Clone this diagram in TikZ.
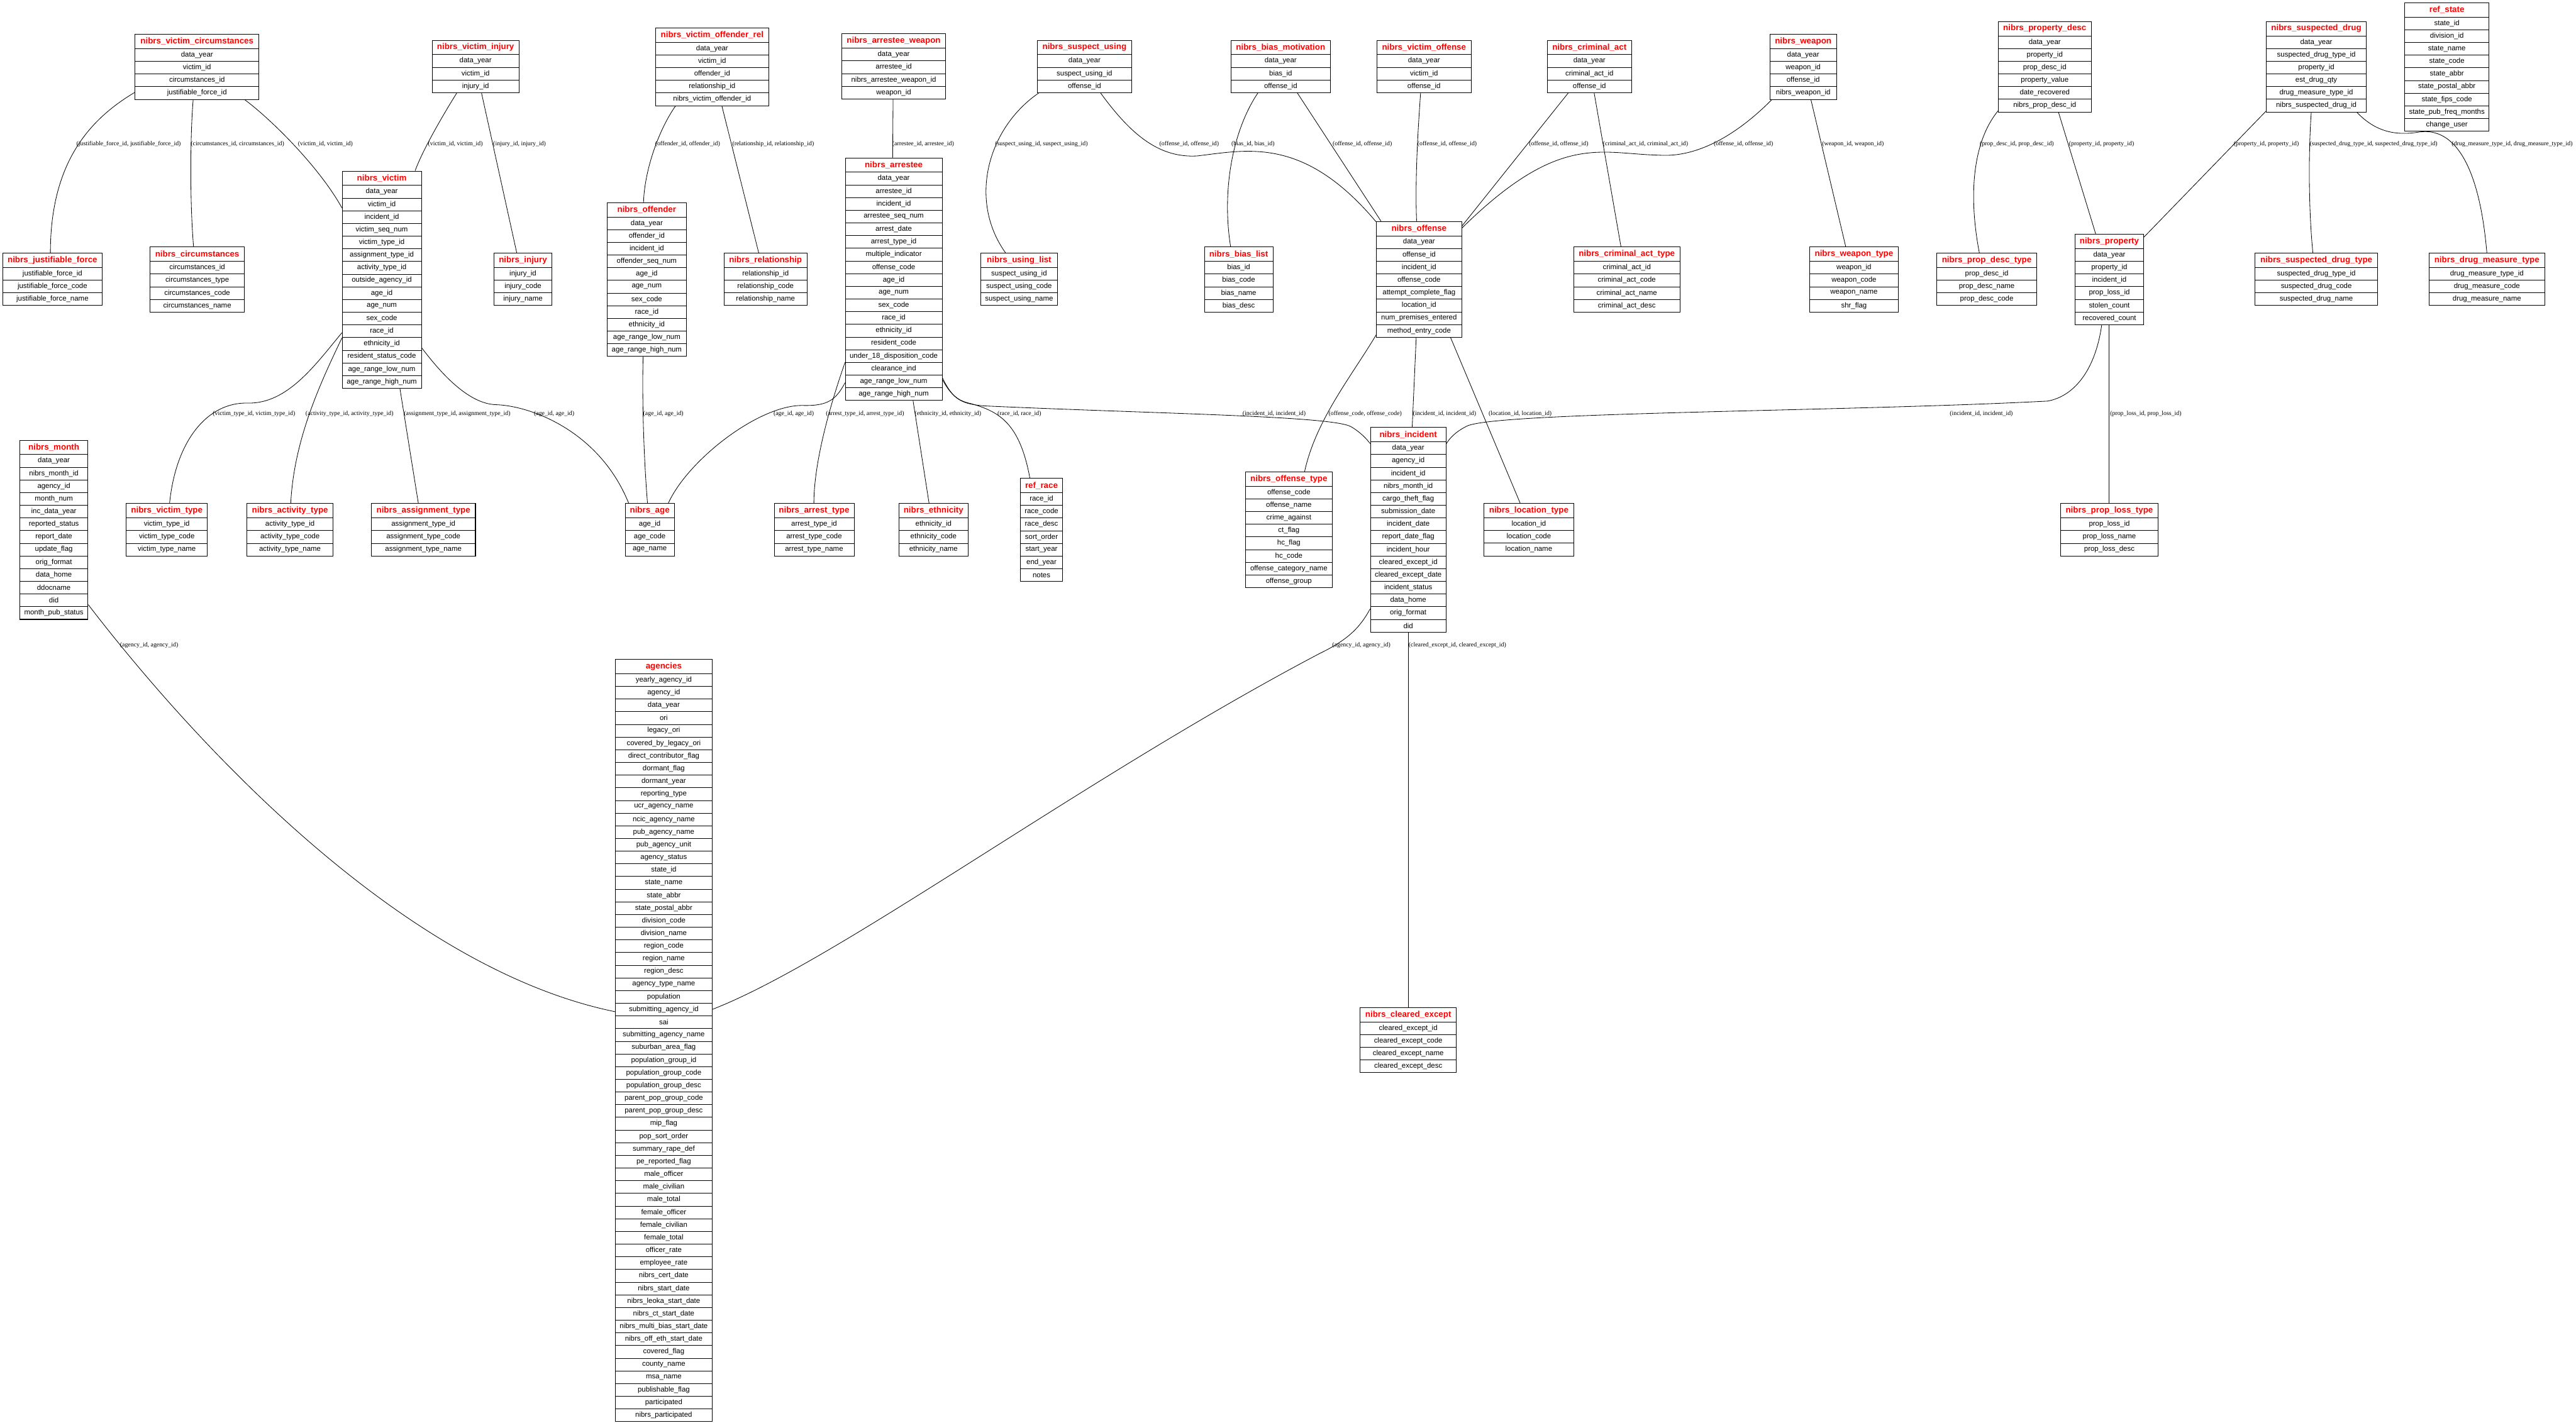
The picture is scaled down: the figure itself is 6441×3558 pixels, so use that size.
\documentclass[tikz,border=0pt]{standalone}
\usepackage{fontspec}
\setmainfont{Liberation Sans}
\newfontfamily\lblserif{Liberation Serif}
\usetikzlibrary{calc}
\newcommand\hdfont{\fontsize{21}{24}\selectfont\bfseries}
\newcommand\rwfont{\fontsize{18}{21}\selectfont}
\newcommand\lbfont{\lblserif\fontsize{15.5}{18}\selectfont}
\tikzset{
  tblbox/.style={draw, line width=1.6pt, inner sep=0pt, fill=white},
  tblhead/.style={draw, line width=1.2pt, inner sep=0pt, minimum height=36pt, font=\hdfont, text=red},
  tblrow/.style={draw, line width=1.2pt, inner sep=0pt, minimum height=31.7pt, font=\rwfont},
  conn/.style={line width=1.3pt, black},
  elabel/.style={font=\lbfont, anchor=west, inner sep=0pt},
}
% #1 name, #2 x, #3 y (top), #4 width, #5 rows, #6 title, #7 row list
\newcommand\ertable[7]{%
  \node[tblbox, minimum width=#4, minimum height={36+#5*31.7}, anchor=north west] (#1) at (#2,#3) {};
  \node[tblhead, minimum width=#4, anchor=north west] (#1-h) at (#2,#3) {#6};
  \foreach \rowtxt [count=\rowno] in {#7} {
    \node[tblrow, minimum width=#4, anchor=north west] (#1-\rowno) at (#2,{#3+36+(\rowno-1)*31.7}) {\rowtxt};
  }%
}
\begin{document}
\catcode`\_=12
\begin{tikzpicture}[x=1pt, y=-1pt]
\fill[white] (0,0) rectangle (6441,3558);
\useasboundingbox (0,0) rectangle (6441,3558);

% ---------------- tables ----------------
\ertable{vc}{337}{85}{310}{4}{nibrs_victim_circumstances}{data_year, victim_id, circumstances_id, justifiable_force_id}
\ertable{jf}{6}{632}{249}{3}{nibrs_justifiable_force}{justifiable_force_id, justifiable_force_code, justifiable_force_name}
\ertable{circ}{375}{617}{235}{4}{nibrs_circumstances}{circumstances_id, circumstances_type, circumstances_code, circumstances_name}
\ertable{victim}{855}{427}{198}{16}{nibrs_victim}{data_year, victim_id, incident_id, victim_seq_num, victim_type_id, assignment_type_id, activity_type_id, outside_agency_id, age_id, age_num, sex_code, race_id, ethnicity_id, resident_status_code, age_range_low_num, age_range_high_num}
\ertable{vinj}{1080}{100}{217}{3}{nibrs_victim_injury}{data_year, victim_id, injury_id}
\ertable{vor}{1639}{69}{282}{5}{nibrs_victim_offender_rel}{data_year, victim_id, offender_id, relationship_id, nibrs_victim_offender_id}
\ertable{aw}{2104}{84}{260}{4}{nibrs_arrestee_weapon}{data_year, arrestee_id, nibrs_arrestee_weapon_id, weapon_id}
\ertable{injury}{1235}{632}{144}{3}{nibrs_injury}{injury_id, injury_code, injury_name}
\ertable{offender}{1518}{506}{197}{11}{nibrs_offender}{data_year, offender_id, incident_id, offender_seq_num, age_id, age_num, sex_code, race_id, ethnicity_id, age_range_low_num, age_range_high_num}
\ertable{rel}{1810}{632}{207}{3}{nibrs_relationship}{relationship_id, relationship_code, relationship_name}
\ertable{arrestee}{2113}{394}{242}{18}{nibrs_arrestee}{data_year, arrestee_id, incident_id, arrestee_seq_num, arrest_date, arrest_type_id, multiple_indicator, offense_code, age_id, age_num, sex_code, race_id, ethnicity_id, resident_code, under_18_disposition_code, clearance_ind, age_range_low_num, age_range_high_num}
\ertable{su}{2593}{100}{236}{3}{nibrs_suspect_using}{data_year, suspect_using_id, offense_id}
\ertable{bm}{3077}{100}{249}{3}{nibrs_bias_motivation}{data_year, bias_id, offense_id}
\ertable{vo}{3442}{100}{236}{3}{nibrs_victim_offense}{data_year, victim_id, offense_id}
\ertable{ul}{2451}{632}{193}{3}{nibrs_using_list}{suspect_using_id, suspect_using_code, suspect_using_name}
\ertable{bl}{3011}{617}{171}{4}{nibrs_bias_list}{bias_id, bias_code, bias_name, bias_desc}
\ertable{offense}{3441}{553}{213}{8}{nibrs_offense}{data_year, offense_id, incident_id, offense_code, attempt_complete_flag, location_id, num_premises_entered, method_entry_code}
\ertable{ca}{3868}{100}{211}{3}{nibrs_criminal_act}{data_year, criminal_act_id, offense_id}
\ertable{weapon}{4425}{85}{166}{4}{nibrs_weapon}{data_year, weapon_id, offense_id, nibrs_weapon_id}
\ertable{cat}{3934}{617}{266}{4}{nibrs_criminal_act_type}{criminal_act_id, criminal_act_code, criminal_act_name, criminal_act_desc}
\ertable{wt}{4524}{617}{222}{4}{nibrs_weapon_type}{weapon_id, weapon_code, weapon_name, shr_flag}
\ertable{pdt}{4842}{632}{250}{3}{nibrs_prop_desc_type}{prop_desc_id, prop_desc_name, prop_desc_code}
\ertable{pd}{4996}{53}{232}{6}{nibrs_property_desc}{data_year, property_id, prop_desc_id, property_value, date_recovered, nibrs_prop_desc_id}
\ertable{sd}{5666}{53}{250}{6}{nibrs_suspected_drug}{data_year, suspected_drug_type_id, property_id, est_drug_qty, drug_measure_type_id, nibrs_suspected_drug_id}
\ertable{rs}{6012}{6}{211}{9}{ref_state}{state_id, division_id, state_name, state_code, state_abbr, state_postal_abbr, state_fips_code, state_pub_freq_months, change_user}
\ertable{property}{5188}{585}{171}{6}{nibrs_property}{data_year, property_id, incident_id, prop_loss_id, stolen_count, recovered_count}
\ertable{sdt}{5638}{632}{306}{3}{nibrs_suspected_drug_type}{suspected_drug_type_id, suspected_drug_code, suspected_drug_name}
\ertable{dmt}{6073}{632}{289}{3}{nibrs_drug_measure_type}{drug_measure_type_id, drug_measure_code, drug_measure_name}
\ertable{month}{49}{1100}{170}{13}{nibrs_month}{data_year, nibrs_month_id, agency_id, month_num, inc_data_year, reported_status, report_date, update_flag, orig_format, data_home, ddocname, did, month_pub_status}
\ertable{vt}{315}{1258.5}{203}{3}{nibrs_victim_type}{victim_type_id, victim_type_code, victim_type_name}
\ertable{actt}{617}{1258.5}{215}{3}{nibrs_activity_type}{activity_type_id, activity_type_code, activity_type_name}
\ertable{ast}{928}{1258.5}{260}{3}{nibrs_assignment_type}{assignment_type_id, assignment_type_code, assignment_type_name}
\ertable{age}{1563}{1258.5}{122}{3}{nibrs_age}{age_id, age_code, age_name}
\ertable{art}{1935}{1258.5}{200}{3}{nibrs_arrest_type}{arrest_type_id, arrest_type_code, arrest_type_name}
\ertable{eth}{2247}{1258.5}{173}{3}{nibrs_ethnicity}{ethnicity_id, ethnicity_code, ethnicity_name}
\ertable{race}{2551}{1195.4}{105}{7}{ref_race}{race_id, race_code, race_desc, sort_order, start_year, end_year, notes}
\ertable{ot}{3113}{1179.3}{218}{8}{nibrs_offense_type}{offense_code, offense_name, crime_against, ct_flag, hc_flag, hc_code, offense_category_name, offense_group}
\ertable{incident}{3426}{1068.4}{189}{15}{nibrs_incident}{data_year, agency_id, incident_id, nibrs_month_id, cargo_theft_flag, submission_date, incident_date, report_date_flag, incident_hour, cleared_except_id, cleared_except_date, incident_status, data_home, orig_format, did}
\ertable{lt}{3710}{1258.3}{224}{3}{nibrs_location_type}{location_id, location_code, location_name}
\ertable{plt}{5152}{1258.5}{243}{3}{nibrs_prop_loss_type}{prop_loss_id, prop_loss_name, prop_loss_desc}
\ertable{agencies}{1538}{1648}{242}{59}{agencies}{yearly_agency_id, agency_id, data_year, ori, legacy_ori, covered_by_legacy_ori, direct_contributor_flag, dormant_flag, dormant_year, reporting_type, ucr_agency_name, ncic_agency_name, pub_agency_name, pub_agency_unit, agency_status, state_id, state_name, state_abbr, state_postal_abbr, division_code, division_name, region_code, region_name, region_desc, agency_type_name, population, submitting_agency_id, sai, submitting_agency_name, suburban_area_flag, population_group_id, population_group_code, population_group_desc, parent_pop_group_code, parent_pop_group_desc, mip_flag, pop_sort_order, summary_rape_def, pe_reported_flag, male_officer, male_civilian, male_total, female_officer, female_civilian, female_total, officer_rate, employee_rate, nibrs_cert_date, nibrs_start_date, nibrs_leoka_start_date, nibrs_ct_start_date, nibrs_multi_bias_start_date, nibrs_off_eth_start_date, covered_flag, county_name, msa_name, publishable_flag, participated, nibrs_participated}
\ertable{ce}{3400}{2519}{241}{4}{nibrs_cleared_except}{cleared_except_id, cleared_except_code, cleared_except_name, cleared_except_desc}

% ---------------- connectors ----------------
\draw[conn] ($(vc.north west)+(0,146)$) .. controls (230,295) and (126,400) .. ($(jf.north west)+(120,0)$);
\draw[conn] ($(vc.south west)+(146,0)$) .. controls (476,330) and (474,500) .. ($(circ.north west)+(109,0)$);
\draw[conn] ($(vc.south west)+(275,0)$) .. controls (680,300) and (800,420) .. ($(victim.north west)+(0,93)$);
\draw[conn] ($(vinj.south west)+(62,0)$) .. controls (1100,300) and (1055,380) .. ($(victim.north west)+(183,0)$);
\draw[conn] ($(vinj.south west)+(124,0)$) -- ($(injury.north west)+(57,0)$);
\draw[conn] ($(vor.south west)+(50,0)$) .. controls (1650,320) and (1612,420) .. ($(offender.north west)+(91,0)$);
\draw[conn] ($(vor.south west)+(166,0)$) -- ($(rel.north west)+(87,0)$);
\draw[conn] ($(aw.south west)+(129,0)$) -- ($(arrestee.north west)+(119,0)$);
\draw[conn] ($(su.south west)+(4,0)$) .. controls (2470,320) and (2420,500) .. ($(ul.north west)+(63,0)$);
\draw[conn] ($(su.south west)+(159,0)$) .. controls (2830,340) and (2900,395) .. (2993,390) .. controls (3120,375) and (3260,340) .. ($(offense.north west)+(0,2)$);
\draw[conn] ($(bm.south west)+(68,0)$) .. controls (3080,330) and (3055,480) .. ($(bl.north west)+(66,0)$);
\draw[conn] ($(bm.south west)+(167,0)$) -- ($(offense.north west)+(12,0)$);
\draw[conn] ($(vo.south west)+(110,0)$) .. controls (3545,330) and (3538,450) .. ($(offense.north west)+(101,0)$);
\draw[conn] ($(ca.south west)+(53,0)$) -- ($(offense.north east)+(0,12)$);
\draw[conn] ($(weapon.south west)+(5,0)$) .. controls (4350,330) and (4250,395) .. (4148,388) .. controls (4000,385) and (3900,330) .. ($(offense.north east)+(0,17)$);
\draw[conn] ($(ca.south west)+(118,0)$) -- ($(cat.north west)+(119,0)$);
\draw[conn] ($(weapon.south west)+(103,0)$) -- ($(wt.north west)+(91,0)$);
\draw[conn] ($(pd.south west)+(1,-5)$) .. controls (4935,350) and (4920,480) .. ($(pdt.north west)+(107,0)$);
\draw[conn] ($(pd.south west)+(151,0)$) -- ($(property.north west)+(52,0)$);
\draw[conn] ($(sd.south west)+(0,-3)$) -- ($(property.north east)+(0,8)$);
\draw[conn] ($(sd.south west)+(113,0)$) .. controls (5772,380) and (5772,520) .. ($(sdt.north west)+(145,0)$);
\draw[conn] ($(sd.south west)+(227,0)$) .. controls (5940,330) and (5990,340) .. (6050,330) .. controls (6140,318) and (6200,420) .. ($(dmt.north west)+(145,0)$);
\draw[conn] ($(offense.south west)+(0,-7)$) .. controls (3380,940) and (3290,1050) .. ($(ot.north west)+(149,0)$);
\draw[conn] ($(offense.south west)+(100,0)$) -- ($(incident.north west)+(105,0)$);
\draw[conn] ($(offense.south west)+(186,0)$) -- ($(lt.north west)+(91,0)$);
\draw[conn] ($(arrestee.north east)+(0,556)$) .. controls (2385,1000) and (2405,1010) .. (2460,1015) .. controls (2900,1035) and (3330,1040) .. (3378,1067) .. controls (3400,1080) and (3415,1095) .. ($(incident.north west)+(0,41)$);
\draw[conn] ($(arrestee.north east)+(0,551)$) .. controls (2380,995) and (2400,1003) .. (2430,1010) .. controls (2500,1030) and (2550,1060) .. ($(race.north west)+(24,0)$);
\draw[conn] ($(arrestee.south west)+(170,0)$) -- ($(eth.north west)+(76,0)$);
\draw[conn] ($(arrestee.north west)+(0,512)$) .. controls (2080,1000) and (2035,1150) .. ($(art.north west)+(100,0)$);
\draw[conn] ($(arrestee.north west)+(0,563)$) .. controls (2090,1000) and (2070,1015) .. (2010,1014) .. controls (1900,1010) and (1720,1150) .. ($(age.north west)+(108,0)$);
\draw[conn] ($(offender.south west)+(90,0)$) .. controls (1605,1000) and (1610,1150) .. ($(age.north west)+(56,0)$);
\draw[conn] ($(victim.north east)+(0,443)$) .. controls (1100,930) and (1170,1010) .. (1240,1012) .. controls (1330,1015) and (1500,1080) .. ($(age.north west)+(9,0)$);
\draw[conn] ($(victim.north west)+(0,405)$) .. controls (790,910) and (720,1010) .. (620,1008) .. controls (520,1005) and (440,1100) .. ($(vt.north west)+(109,0)$);
\draw[conn] ($(victim.north west)+(0,418)$) .. controls (800,960) and (735,1100) .. ($(actt.north west)+(110,0)$);
\draw[conn] ($(victim.south west)+(145,0)$) -- ($(ast.north west)+(118,0)$);
\draw[conn] ($(property.south west)+(67,0)$) .. controls (5240,920) and (5190,990) .. (5120,1003) .. controls (4600,1030) and (3720,1030) .. (3665,1067) .. controls (3640,1080) and (3625,1095) .. ($(incident.north east)+(0,41)$);
\draw[conn] ($(property.south west)+(85,0)$) -- ($(plt.north west)+(121,0)$);
\draw[conn] ($(month.north east)+(0,412)$) .. controls (480,1850) and (1000,2420) .. ($(agencies.north west)+(0,882)$);
\draw[conn] ($(incident.north west)+(0,454)$) .. controls (3400,1570) and (3370,1600) .. (3300,1634) .. controls (2700,1950) and (2100,2400) .. ($(agencies.north east)+(0,876)$);
\draw[conn] ($(incident.south west)+(95,0)$) -- ($(ce.north west)+(121,0)$);

% ---------------- labels ----------------
\node[elabel] (l1) at (191,361) {(justifiable_force_id, justifiable_force_id)};
\node[elabel] (l2) at (477,361) {(circumstances_id, circumstances_id)};
\node[elabel] (l3) at (745,361) {(victim_id, victim_id)};
\node[elabel] (l4) at (1070,361) {(victim_id, victim_id)};
\node[elabel] (l5) at (1233,361) {(injury_id, injury_id)};
\node[elabel] (l6) at (1638,361) {(offender_id, offender_id)};
\node[elabel] (l7) at (1831,361) {(relationship_id, relationship_id)};
\node[elabel] (l8) at (2231,361) {(arrestee_id, arrestee_id)};
\node[elabel] (l9) at (2488,361) {(suspect_using_id, suspect_using_id)};
\node[elabel] (l10) at (2899,361) {(offense_id, offense_id)};
\node[elabel] (l11) at (3079,361) {(bias_id, bias_id)};
\node[elabel] (l12) at (3332,361) {(offense_id, offense_id)};
\node[elabel] (l13) at (3544,361) {(offense_id, offense_id)};
\node[elabel] (l14) at (3823,361) {(offense_id, offense_id)};
\node[elabel] (l16) at (4008,361) {(criminal_act_id, criminal_act_id)};
\node[elabel] (l15) at (4285,361) {(offense_id, offense_id)};
\node[elabel] (l17) at (4556,361) {(weapon_id, weapon_id)};
\node[elabel] (l18) at (4950,361) {(prop_desc_id, prop_desc_id)};
\node[elabel] (l19) at (5173,361) {(property_id, property_id)};
\node[elabel] (l20) at (5585,361) {(property_id, property_id)};
\node[elabel] (l21) at (5775,361) {(suspected_drug_type_id, suspected_drug_type_id)};
\node[elabel] (l22) at (6130,361) {(drug_measure_type_id, drug_measure_type_id)};

\node[elabel] (l34) at (532,1035) {(victim_type_id, victim_type_id)};
\node[elabel] (l35) at (764,1035) {(activity_type_id, activity_type_id)};
\node[elabel] (l36) at (1010,1035) {(assignment_type_id, assignment_type_id)};
\node[elabel] (l33) at (1335,1035) {(age_id, age_id)};
\node[elabel] (l32) at (1608,1035) {(age_id, age_id)};
\node[elabel] (l31) at (1934,1035) {(age_id, age_id)};
\node[elabel] (l30) at (2065,1035) {(arrest_type_id, arrest_type_id)};
\node[elabel] (l29) at (2287,1035) {(ethnicity_id, ethnicity_id)};
\node[elabel] (l28) at (2494,1035) {(race_id, race_id)};
\node[elabel] (l27) at (3107,1035) {(incident_id, incident_id)};
\node[elabel] (l23) at (3322,1035) {(offense_code, offense_code)};
\node[elabel] (l24) at (3533,1035) {(incident_id, incident_id)};
\node[elabel] (l25) at (3722,1035) {(location_id, location_id)};
\node[elabel] (l37) at (4875,1035) {(incident_id, incident_id)};
\node[elabel] (l38) at (5276,1035) {(prop_loss_id, prop_loss_id)};

\node[elabel] (l39) at (300,1614) {(agency_id, agency_id)};
\node[elabel] (l40) at (3331,1614) {(agency_id, agency_id)};
\node[elabel] (l41) at (3522,1614) {(cleared_except_id, cleared_except_id)};
\end{tikzpicture}
\end{document}
